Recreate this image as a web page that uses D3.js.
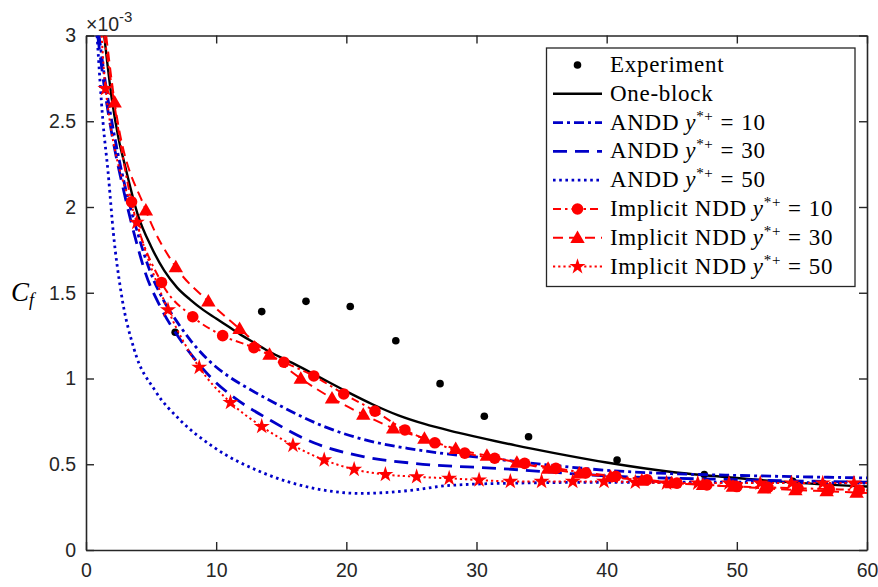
<!DOCTYPE html>
<html>
<head>
<meta charset="utf-8">
<script src="https://cdn.jsdelivr.net/npm/d3@7"></script>
<style>
  html, body { margin: 0; padding: 0; background: #fff; }
  svg { display: block; }
</style>
</head>
<body>
<svg id="chart" width="878" height="587"></svg>
<script>
// ---------------- DATA (Cf in units of 1e-3) ----------------
const xTicks = [0, 10, 20, 30, 40, 50, 60];
const yTicks = [0, 0.5, 1, 1.5, 2, 2.5, 3];
const yTickLabels = ["0", "0.5", "1", "1.5", "2", "2.5", "3"];

const expX = [6.85, 13.5, 16.9, 20.3, 23.8, 27.2, 30.6, 34.0, 40.8, 47.5, 54.3];
const expY = [1.27, 1.39, 1.45, 1.42, 1.22, 0.97, 0.78, 0.66, 0.525, 0.44, 0.40];

const oneBlockX = [1.4, 2, 2.5, 3, 4, 5, 6, 7, 8, 9, 10, 11, 12, 13, 14, 16, 18, 20, 22, 24, 26, 28, 30, 33, 36, 40, 45, 50, 55, 60];
const oneBlockY = [3.0, 2.62, 2.40, 2.24, 1.95, 1.77, 1.63, 1.53, 1.46, 1.40, 1.35, 1.30, 1.25, 1.205, 1.16, 1.085, 1.005, 0.925, 0.85, 0.785, 0.735, 0.695, 0.66, 0.61, 0.565, 0.51, 0.455, 0.42, 0.39, 0.37];

const andd10X = [1.0, 1.5, 2.1, 3, 4, 4.9, 6, 7, 8, 9.5, 11, 12.4, 15.2, 18.3, 21.3, 24.7, 27.2, 30.3, 35, 40.5, 45, 50, 55, 60];
const andd10Y = [3.0, 2.72, 2.45, 2.12, 1.84, 1.63, 1.45, 1.33, 1.225, 1.10, 1.01, 0.945, 0.83, 0.72, 0.645, 0.593, 0.565, 0.54, 0.50, 0.462, 0.445, 0.435, 0.427, 0.42];

const andd30X = [0.9, 1.5, 2, 3, 4, 4.5, 5.7, 7.3, 8.5, 9.8, 11.1, 14.2, 17.5, 21.3, 25.2, 31.6, 40.6, 50, 60];
const andd30Y = [3.0, 2.65, 2.42, 2.06, 1.76, 1.63, 1.42, 1.22, 1.10, 0.99, 0.905, 0.755, 0.625, 0.545, 0.505, 0.476, 0.43, 0.41, 0.395];

const andd50X = [0.85, 1.3, 1.7, 2.1, 2.7, 3.7, 5.3, 7.2, 9.8, 13.6, 17.5, 21.1, 23, 25.2, 27.7, 32.9, 40, 50, 60];
const andd50Y = [3.0, 2.5, 2.2, 1.85, 1.50, 1.17, 0.93, 0.76, 0.60, 0.45, 0.36, 0.33, 0.335, 0.35, 0.375, 0.39, 0.395, 0.395, 0.39];

// first and last entries are the curve ends; markers sit on the inner points
const ndd10X = [1.4, 3.5, 5.8, 8.2, 10.5, 12.9, 15.2, 17.5, 19.8, 22.2, 24.5, 26.8, 29.1, 31.4, 33.7, 36.1, 38.4, 40.7, 43.1, 45.4, 47.7, 50.0, 52.4, 54.7, 57.1, 59.4, 60];
const ndd10Y = [3.0, 2.03, 1.56, 1.36, 1.25, 1.18, 1.095, 1.015, 0.91, 0.81, 0.70, 0.625, 0.565, 0.535, 0.505, 0.476, 0.45, 0.43, 0.41, 0.39, 0.38, 0.37, 0.365, 0.36, 0.355, 0.35, 0.349];

const ndd30X = [1.55, 2.2, 4.6, 6.9, 9.4, 11.8, 14.1, 16.5, 18.9, 21.3, 23.6, 26.0, 28.4, 30.8, 33.1, 35.5, 37.9, 40.3, 42.7, 45.0, 47.4, 49.7, 52.1, 54.5, 56.9, 59.2, 60];
const ndd30Y = [3.0, 2.61, 1.98, 1.65, 1.45, 1.29, 1.14, 1.00, 0.885, 0.79, 0.71, 0.65, 0.59, 0.55, 0.51, 0.475, 0.447, 0.427, 0.405, 0.39, 0.38, 0.37, 0.36, 0.35, 0.343, 0.335, 0.333];

const ndd50X = [1.2, 1.5, 3.9, 6.3, 8.7, 11.1, 13.5, 15.9, 18.3, 20.6, 23.0, 25.4, 27.9, 30.2, 32.6, 35.0, 37.4, 39.8, 42.2, 44.6, 47.0, 49.4, 51.8, 54.2, 56.6, 59.0, 60];
const ndd50Y = [3.0, 2.69, 1.91, 1.40, 1.065, 0.86, 0.72, 0.61, 0.525, 0.47, 0.44, 0.427, 0.418, 0.408, 0.40, 0.40, 0.40, 0.40, 0.395, 0.39, 0.39, 0.39, 0.39, 0.39, 0.39, 0.39, 0.39];

const seriesNames = ["Experiment", "One-block", "ANDD", "ANDD", "ANDD", "Implicit NDD", "Implicit NDD", "Implicit NDD"];
const seriesYpp = [null, null, "10", "30", "50", "10", "30", "50"];

// ---------------- LAYOUT ----------------
const svg = d3.select("#chart");
const L = 86, R = 867, T = 35.5, B = 550;
const x = d3.scaleLinear().domain([0, 60]).range([L, R]);
const y = d3.scaleLinear().domain([0, 3]).range([B, T]);
const axisColor = "#262626";
const BLUE = "#0000c8", RED = "#ff0000";
const zip = (a, b) => a.map((v, i) => [v, b[i]]);

svg.append("defs").append("clipPath").attr("id", "clip")
  .append("rect").attr("x", L).attr("y", T).attr("width", R - L).attr("height", B - T);

// axes (box with inward ticks)
const tickLen = 8;
const gAx = svg.append("g");
gAx.append("g").attr("transform", `translate(0,${B})`)
  .call(d3.axisBottom(x).tickValues(xTicks).tickSizeInner(-tickLen).tickSizeOuter(0).tickPadding(13).tickFormat(d3.format("d")));
gAx.append("g").attr("transform", `translate(0,${T})`)
  .call(d3.axisTop(x).tickValues(xTicks).tickSizeInner(-tickLen).tickSizeOuter(0).tickFormat(""));
gAx.append("g").attr("transform", `translate(${L},0)`)
  .call(d3.axisLeft(y).tickValues(yTicks).tickSizeInner(-tickLen).tickSizeOuter(0).tickPadding(10).tickFormat((d, i) => yTickLabels[i]));
gAx.append("g").attr("transform", `translate(${R},0)`)
  .call(d3.axisRight(y).tickValues(yTicks).tickSizeInner(-tickLen).tickSizeOuter(0).tickFormat(""));
gAx.selectAll(".domain").attr("stroke", axisColor).attr("stroke-width", 1.6);
gAx.selectAll(".tick line").attr("stroke", axisColor).attr("stroke-width", 1.4);
gAx.selectAll(".tick text").attr("fill", axisColor)
  .attr("font-family", "'Liberation Sans', Arial, sans-serif").attr("font-size", 19.5);

// exponent label
const ex = svg.append("text").attr("x", 86).attr("y", 31)
  .attr("font-family", "'Liberation Sans', Arial, sans-serif").attr("font-size", 19.5).attr("fill", axisColor);
ex.append("tspan").text("×10");
ex.append("tspan").attr("dy", -9).attr("font-size", 15).text("-3");

// y label C_f
const yl = svg.append("text").attr("x", 11).attr("y", 301)
  .attr("font-family", "'Liberation Serif', 'Times New Roman', serif").attr("font-style", "italic")
  .attr("font-size", 27).attr("fill", "#000");
yl.append("tspan").text("C");
yl.append("tspan").attr("dy", 5).attr("font-size", 18).text("f");

// ---------------- MARKS ----------------
const plot = svg.append("g").attr("clip-path", "url(#clip)");
const line = d3.line().x(d => x(d[0])).y(d => y(d[1])).curve(d3.curveMonotoneX);

const styles = [
  null,
  { data: zip(oneBlockX, oneBlockY), color: "#000", w: 2.4, dash: null },
  { data: zip(andd10X, andd10Y), color: BLUE, w: 2.8, dash: "10,4,3,4" },
  { data: zip(andd30X, andd30Y), color: BLUE, w: 2.8, dash: "14,8" },
  { data: zip(andd50X, andd50Y), color: BLUE, w: 2.8, dash: "2.6,3.6" },
  { data: zip(ndd10X, ndd10Y), color: RED, w: 2.0, dash: "8,4,2.5,4", marker: "circle" },
  { data: zip(ndd30X, ndd30Y), color: RED, w: 2.0, dash: "10,6", marker: "triangle" },
  { data: zip(ndd50X, ndd50Y), color: RED, w: 2.0, dash: "2.2,3", marker: "star" }
];

function drawMarker(g, kind, cx, cy, color) {
  if (kind === "circle") {
    g.append("circle").attr("cx", cx).attr("cy", cy).attr("r", 5.8).attr("fill", color);
  } else if (kind === "triangle") {
    g.append("path").attr("d", d3.symbol(d3.symbolTriangle, 90)()).attr("transform", `translate(${cx},${cy + 1})`).attr("fill", color);
  } else if (kind === "star") {
    g.append("path").attr("d", d3.symbol(d3.symbolStar, 80)()).attr("transform", `translate(${cx},${cy})`).attr("fill", color);
  } else if (kind === "dot") {
    g.append("circle").attr("cx", cx).attr("cy", cy).attr("r", 3.8).attr("fill", color);
  }
}

// experiment dots
const gExp = plot.append("g");
zip(expX, expY).forEach(d => drawMarker(gExp, "dot", x(d[0]), y(d[1]), "#000"));

styles.forEach(s => {
  if (!s) return;
  plot.append("path").datum(s.data).attr("d", line).attr("fill", "none")
    .attr("stroke", s.color).attr("stroke-width", s.w)
    .attr("stroke-dasharray", s.dash).attr("stroke-linejoin", "round");
  if (s.marker) {
    const gm = plot.append("g");
    s.data.slice(1, -1).forEach(d => drawMarker(gm, s.marker, x(d[0]), y(d[1]), s.color));
  }
});

// ---------------- LEGEND ----------------
const lg = svg.append("g");
lg.append("rect").attr("x", 546.5).attr("y", 48).attr("width", 308.5).attr("height", 238.5)
  .attr("fill", "#fff").attr("stroke", axisColor).attr("stroke-width", 1.3);
const lx1 = 553, lx2 = 602, tx = 610;
seriesNames.forEach((name, i) => {
  const cy = 65 + i * 28.8;
  const s = styles[i];
  if (i === 0) {
    drawMarker(lg, "dot", (lx1 + lx2) / 2, cy, "#000");
  } else {
    lg.append("line").attr("x1", lx1).attr("x2", lx2).attr("y1", cy).attr("y2", cy)
      .attr("stroke", s.color).attr("stroke-width", s.w).attr("stroke-dasharray", s.dash);
    if (s.marker) drawMarker(lg, s.marker, (lx1 + lx2) / 2, cy, s.color);
  }
  const t = lg.append("text").attr("x", tx).attr("y", cy + 7)
    .attr("font-family", "'Liberation Serif', 'Times New Roman', serif")
    .attr("font-size", 23).attr("letter-spacing", 0.7).attr("fill", "#000");
  t.append("tspan").text(name);
  if (seriesYpp[i]) {
    t.append("tspan").attr("dx", 6).attr("font-style", "italic").text("y");
    t.append("tspan").attr("dy", -9).attr("font-size", 15).text("*+");
    t.append("tspan").attr("dy", 9).attr("dx", 7).text("=");
    t.append("tspan").attr("dx", 7).text(seriesYpp[i]);
  }
});
</script>
</body>
</html>
